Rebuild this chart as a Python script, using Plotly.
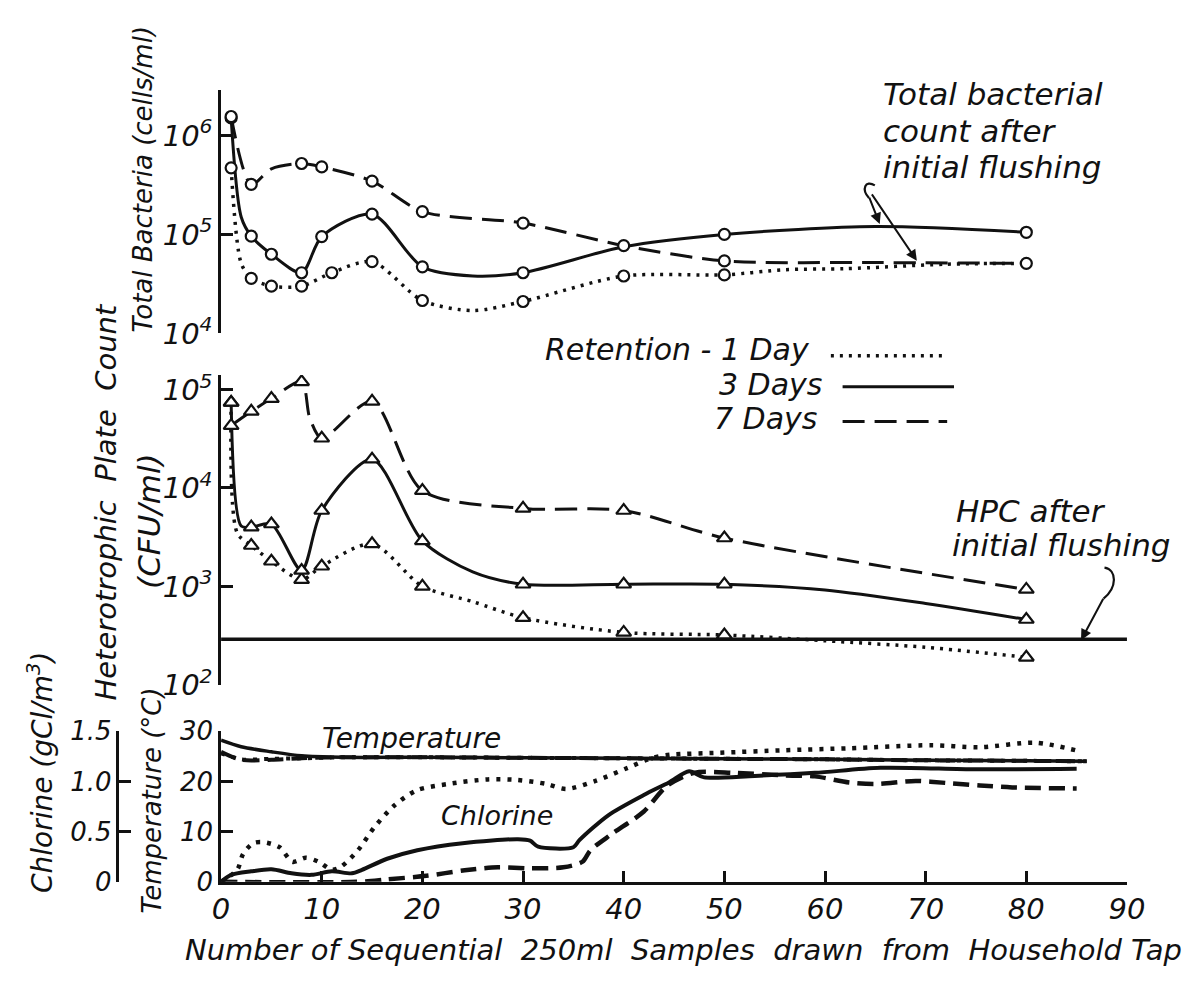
import plotly.graph_objects as go

W, H = 1187, 994

# ---------------- data ----------------
# Total bacteria (cells/ml): sampled points (circles)
tb_x_1d = [1, 3, 5, 8, 11, 15, 20, 30, 40, 50]
tb_1d = [4.7e5, 3.6e4, 3.0e4, 3.0e4, 4.1e4, 5.3e4, 2.15e4, 2.1e4, 3.8e4, 3.9e4]
tb_x_3d = [1, 3, 5, 8, 10, 15, 20, 30, 50, 80]
tb_3d = [1.5e6, 9.6e4, 6.3e4, 4.1e4, 9.5e4, 1.6e5, 4.7e4, 4.1e4, 1.0e5, 1.05e5]
tb_x_7d = [1, 3, 8, 10, 15, 20, 30, 40, 50, 80]
tb_7d = [1.55e6, 3.2e5, 5.2e5, 4.8e5, 3.45e5, 1.7e5, 1.3e5, 7.7e4, 5.4e4, 5.1e4]
# Total bacteria: curves as drawn
tb_cx_1d = [1, 2, 3, 5, 8, 11, 15, 20, 25, 30, 40, 50, 56, 62, 72, 80]
tb_c_1d = [4.7e5, 5.1e4, 3.6e4, 3.0e4, 3.0e4, 4.1e4, 5.3e4, 2.15e4, 1.7e4, 2.1e4,
           3.8e4, 3.9e4, 4.4e4, 4.5e4, 5.0e4, 5.1e4]
tb_cx_3d = [1, 2, 3, 5, 8, 10, 15, 20, 25, 30, 40, 50, 65, 80]
tb_c_3d = [1.5e6, 1.5e5, 9.6e4, 6.3e4, 4.1e4, 9.5e4, 1.6e5, 4.7e4, 3.8e4, 4.1e4,
           7.5e4, 1.0e5, 1.2e5, 1.05e5]
tb_cx_7d = [1, 3, 5, 8, 10, 15, 20, 30, 40, 50, 65, 80]
tb_c_7d = [1.55e6, 3.2e5, 4.6e5, 5.2e5, 4.8e5, 3.45e5, 1.7e5, 1.3e5, 7.7e4, 5.4e4,
           5.2e4, 5.1e4]

# Heterotrophic plate count (CFU/ml): sampled points (triangles)
hpc_x_1d = [1, 3, 5, 8, 10, 15, 20, 30, 40, 50, 80]
hpc_1d = [7.4e4, 2.6e3, 1.8e3, 1.17e3, 1.6e3, 2.7e3, 1.0e3, 4.8e2, 3.4e2, 3.2e2, 1.9e2]
hpc_x_3d = [1, 3, 5, 8, 10, 15, 20, 30, 40, 50, 80]
hpc_3d = [7.4e4, 4.0e3, 4.3e3, 1.45e3, 5.9e3, 1.96e4, 2.9e3, 1.05e3, 1.05e3, 1.05e3, 4.6e2]
hpc_x_7d = [1, 3, 5, 8, 10, 15, 20, 30, 40, 50, 80]
hpc_7d = [4.3e4, 6.0e4, 8.1e4, 1.2e5, 3.2e4, 7.6e4, 9.4e3, 6.2e3, 5.9e3, 3.1e3, 9.3e2]
# HPC curves as drawn
hpc_cx_1d = [1, 1.6, 3, 5, 8, 10, 15, 20, 25, 30, 40, 50, 60, 70, 80]
hpc_c_1d = [7.4e4, 3.5e3, 2.6e3, 1.8e3, 1.17e3, 1.6e3, 2.7e3, 1.0e3, 7.0e2, 4.8e2,
            3.4e2, 3.2e2, 2.8e2, 2.4e2, 1.9e2]
hpc_cx_3d = [1, 2, 3, 5, 8, 10, 15, 20, 25, 30, 40, 50, 60, 70, 80]
hpc_c_3d = [7.4e4, 4.1e3, 4.0e3, 4.3e3, 1.45e3, 5.9e3, 1.96e4, 2.9e3, 1.4e3, 1.05e3,
            1.05e3, 1.05e3, 9.2e2, 6.7e2, 4.6e2]
hpc_cx_7d = [1, 3, 5, 8, 8.8, 10, 15, 20, 30, 40, 50, 80]
hpc_c_7d = [4.3e4, 6.0e4, 8.1e4, 1.2e5, 5.2e4, 3.2e4, 7.6e4, 9.4e3, 6.2e3, 5.9e3,
            3.1e3, 9.3e2]
# HPC after initial flushing
hpc_flush_x = [0, 90]
hpc_flush = [290, 290]

# Temperature (deg C)
temp_x = [0, 2, 5, 8, 12, 20, 30, 40, 50, 60, 70, 80, 86]
temp_3d = [28.2, 26.9, 25.9, 25.1, 24.8, 24.8, 24.7, 24.6, 24.5, 24.4, 24.2, 24.1, 24.0]
temp_7d = [25.9, 24.3, 24.3, 24.6, 24.8, 24.8, 24.7, 24.6, 24.5, 24.4, 24.2, 24.1, 24.0]
temp_1d = [25.6, 24.4, 24.5, 24.6, 24.8, 24.8, 24.7, 24.6, 24.5, 24.4, 24.2, 24.1, 24.0]

# Chlorine (g Cl/m3)
cl_x_1d = [0, 1.6, 2.2, 3.2, 4.2, 5.8, 7.1, 8.4, 9.7, 11, 11.9, 13.6, 15.2, 17.1, 19.4,
           22.6, 26.5, 29.4, 32.3, 34.3, 37.2, 40.4, 42.7, 44.6, 49.5, 56, 62.4, 70.5,
           75.4, 80.9, 85.1]
cl_1d = [0, 0.12, 0.28, 0.385, 0.395, 0.345, 0.2, 0.24, 0.2, 0.12, 0.15, 0.315, 0.54,
         0.75, 0.91, 0.975, 1.02, 1.015, 0.975, 0.925, 1.005, 1.135, 1.23, 1.265, 1.285,
         1.31, 1.33, 1.36, 1.34, 1.385, 1.305]
cl_x_3d = [0, 1, 3, 5, 7, 9, 11, 13, 14, 16.5, 19.5, 24, 29.5, 30.7, 31.5, 35, 35.6,
           38.5, 42, 44.5, 46.5, 48, 53, 59, 65.5, 75, 85]
cl_3d = [0, 0.07, 0.105, 0.125, 0.085, 0.07, 0.105, 0.085, 0.12, 0.23, 0.315, 0.385,
         0.425, 0.41, 0.35, 0.345, 0.415, 0.665, 0.865, 0.99, 1.10, 1.04, 1.055, 1.085,
         1.135, 1.12, 1.125]
cl_x_7d = [0, 13.5, 16.5, 20.4, 24.2, 27.5, 30.7, 34, 35.9, 36.7, 38.8, 42, 44.3, 47,
           51, 56, 59, 62.4, 65, 69, 72, 75.4, 78.6, 85]
cl_7d = [0, 0, 0.025, 0.06, 0.115, 0.145, 0.135, 0.145, 0.2, 0.315, 0.475, 0.7, 0.955,
         1.085, 1.085, 1.06, 1.05, 0.99, 0.975, 1.005, 0.985, 0.96, 0.94, 0.93]

# axis ticks
x_ticks = [0, 10, 20, 30, 40, 50, 60, 70, 80, 90]
tb_ticks = [1e4, 1e5, 1e6]
tb_tick_text = ["10<sup>4</sup>", "10<sup>5</sup>", "10<sup>6</sup>"]
hpc_ticks = [1e2, 1e3, 1e4, 1e5]
hpc_tick_text = ["10<sup>2</sup>", "10<sup>3</sup>", "10<sup>4</sup>", "10<sup>5</sup>"]
temp_ticks = [0, 10, 20, 30]
cl_ticks = [0, 0.5, 1.0, 1.5]
cl_tick_text = ["0", "0.5", "1.0", "1.5"]

# ---------------- styles ----------------
FONT = "DejaVu Sans"
BLACK = "#111111"
DOT = "3px,6px"
DASH = "22px,10px"


def px(x):
    return x / W


def py(y):
    return 1 - y / H


def ifont(size):
    return dict(family=FONT, size=size, color=BLACK, style="italic")


fig = go.Figure()


def add_line(x, y, yaxis, dash, width=3):
    fig.add_trace(go.Scatter(x=x, y=y, yaxis=yaxis, mode="lines",
                             line=dict(color=BLACK, width=width, dash=dash,
                                       shape="spline", smoothing=0.8),
                             hoverinfo="skip"))


def add_marks(x, y, yaxis, symbol, size):
    fig.add_trace(go.Scatter(x=x, y=y, yaxis=yaxis, mode="markers",
                             marker=dict(symbol=symbol, size=size, color="white",
                                         line=dict(color=BLACK, width=2.2)),
                             hoverinfo="skip"))


# top panel
add_line(tb_cx_1d, tb_c_1d, "y", DOT, 3.5)
add_line(tb_cx_3d, tb_c_3d, "y", "solid", 3)
add_line(tb_cx_7d, tb_c_7d, "y", DASH, 3)
add_marks(tb_x_1d, tb_1d, "y", "circle", 11)
add_marks(tb_x_3d, tb_3d, "y", "circle", 11)
add_marks(tb_x_7d, tb_7d, "y", "circle", 11)

# middle panel
fig.add_trace(go.Scatter(x=hpc_flush_x, y=hpc_flush, yaxis="y2", mode="lines",
                         line=dict(color=BLACK, width=3.5), hoverinfo="skip"))
add_line(hpc_cx_1d, hpc_c_1d, "y2", DOT, 3.5)
add_line(hpc_cx_3d, hpc_c_3d, "y2", "solid", 3)
add_line(hpc_cx_7d, hpc_c_7d, "y2", DASH, 3)
add_marks(hpc_x_1d, hpc_1d, "y2", "triangle-up", 13)
add_marks(hpc_x_3d, hpc_3d, "y2", "triangle-up", 13)
add_marks(hpc_x_7d, hpc_7d, "y2", "triangle-up", 13)

# bottom panel
add_line(temp_x, temp_1d, "y3", "4px,7px", 4)
add_line(temp_x, temp_7d, "y3", "16px,8px", 4)
add_line(temp_x, temp_3d, "y3", "solid", 3.5)
add_line(cl_x_1d, cl_1d, "y4", "4px,7px", 4.5)
add_line(cl_x_3d, cl_3d, "y4", "solid", 4)
add_line(cl_x_7d, cl_7d, "y4", "16px,8px", 4.5)

axis_common = dict(showgrid=False, zeroline=False, showline=True, linecolor=BLACK,
                   linewidth=2.5, ticks="inside", tickwidth=2.5, ticklen=12,
                   tickcolor=BLACK)

fig.update_layout(
    width=W, height=H, margin=dict(l=0, r=0, t=0, b=0),
    paper_bgcolor="white", plot_bgcolor="rgba(0,0,0,0)", showlegend=False,
    xaxis=dict(domain=[px(217), px(1144)], range=[0, 90], anchor="y3",
               tickvals=x_ticks, ticktext=[str(v) for v in x_ticks],
               tickfont=ifont(29), ticklen=11,
               **{k: v for k, v in axis_common.items() if k != "ticklen"}),
    yaxis=dict(domain=[py(329), py(77)], type="log", range=[4, 6.463], anchor="x",
               tickvals=tb_ticks, ticktext=tb_tick_text, tickfont=ifont(29), **axis_common),
    yaxis2=dict(domain=[py(692), py(372)], type="log", range=[2, 5.148], anchor="x",
                tickvals=hpc_ticks, ticktext=hpc_tick_text, tickfont=ifont(29), **axis_common),
    yaxis3=dict(domain=[py(895.7), py(740)], range=[0, 30], anchor="x",
                tickvals=temp_ticks, ticktext=[str(v) for v in temp_ticks],
                tickfont=ifont(26), **axis_common),
    yaxis4=dict(overlaying="y3", anchor="free", position=px(111), range=[0, 1.5],
                side="left", tickvals=cl_ticks, ticktext=cl_tick_text,
                tickfont=ifont(26), **axis_common),
)

ann = []


def text(x, y, s, size=28, xanchor="left", angle=0):
    ann.append(dict(x=px(x), y=py(y), xref="paper", yref="paper", text=s,
                    showarrow=False, xanchor=xanchor, yanchor="middle",
                    textangle=angle, font=ifont(size)))


# axis titles
text(137, 170, "Total Bacteria (cells/ml)", 26, "center", -90)
text(99, 503, "Heterotrophic  Plate  Count", 29, "center", -90)
text(143, 523, "(CFU/ml)", 31, "center", -90)
text(33, 782, "Chlorine (gCl/m<sup>3</sup>)", 28, "center", -90)
text(146, 812, "Temperature (°C)", 26, "center", -90)
text(690, 966, "Number of Sequential  250ml  Samples  drawn  from  Household Tap", 29, "center")

# notes
text(892, 82, "Total bacterial", 31)
text(892, 120, "count after", 31)
text(892, 157, "initial flushing", 31)
text(967, 513, "HPC after", 31)
text(963, 548, "initial flushing", 31)
text(412, 748, "Temperature", 28, "center")
text(499, 827, "Chlorine", 27, "center")

# legend
text(822, 346, "Retention - 1 Day", 30, "right")
text(835, 382, "3 Days", 30, "right")
text(830, 417, "7 Days", 30, "right")


# arrows
def arrow(x0, y0, x1, y1):
    ann.append(dict(x=px(x1), y=py(y1), xref="paper", yref="paper",
                    ax=x0 - x1, ay=y0 - y1, axref="pixel", ayref="pixel",
                    text="", showarrow=True, arrowhead=2, arrowsize=1.1,
                    arrowwidth=2, arrowcolor=BLACK))


arrow(880, 188, 891, 216)
arrow(883, 186, 929, 254)
arrow(1120, 603, 1097, 646)
fig.update_layout(annotations=ann)

shapes = []


def seg(x0, y0, x1, y1, dash, width=3):
    shapes.append(dict(type="line", xref="paper", yref="paper",
                       x0=px(x0), y0=py(y0), x1=px(x1), y1=py(y1),
                       line=dict(color=BLACK, width=width, dash=dash)))


seg(841, 352, 957, 352, DOT, 3.5)
seg(853, 384, 967, 384, "solid", 3)
seg(853, 420, 960, 420, DASH, 3)


def hook(points):
    d = "M {:.5f},{:.5f} C {:.5f},{:.5f} {:.5f},{:.5f} {:.5f},{:.5f}".format(
        *[v for p in points for v in (px(p[0]), py(p[1]))])
    shapes.append(dict(type="path", xref="paper", yref="paper", path=d,
                       line=dict(color=BLACK, width=2.2)))


hook([(886, 176), (876, 170), (872, 180), (880, 189)])
hook([(1121, 571), (1134, 573), (1134, 592), (1120, 603)])
fig.update_layout(shapes=shapes)

fig.write_html("out.html")
